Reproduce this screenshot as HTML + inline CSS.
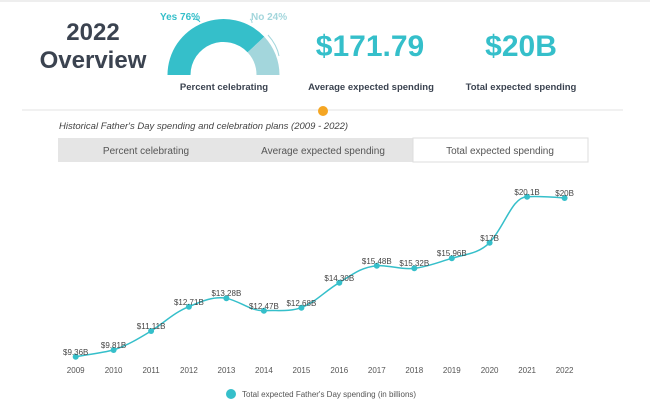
<!DOCTYPE html>
<html><head><style>
body{margin:0;width:650px;height:407px;background:#fff;font-family:"Liberation Sans",sans-serif;position:relative;overflow:hidden}
.a{position:absolute}
</style></head><body>
<div class="a" style="left:0;top:0;width:650px;height:2px;background:#eee"></div>
<div class="a" style="left:22px;top:19px;width:142px;text-align:center;font-size:24px;font-weight:bold;color:#3b4350;line-height:28px">2022<br>Overview</div>
<svg class="a" style="left:0;top:0" width="650" height="407">
<path d="M167.5 75 A56 56 0 0 1 264.3 36.7 L247.6 52.4 A33 33 0 0 0 190.5 75 Z" fill="#35bfca"/>
<path d="M264.3 36.7 A56 56 0 0 1 279.5 75 L256.5 75 A33 33 0 0 0 247.6 52.4 Z" fill="#a3d6dc"/>
<path d="M193 19 Q198 19 200 22" stroke="#35bfca" fill="none"/>
<path d="M250 19 Q252 20 252 23 M268 35 Q277 45 279 56" stroke="#a3d6dc" fill="none"/>
<text x="160" y="20" font-size="10" font-weight="bold" fill="#35bfca">Yes 76%</text>
<text x="251" y="20" font-size="10" font-weight="bold" fill="#a3d6dc">No 24%</text>
<text x="370" y="56" text-anchor="middle" font-size="30" font-weight="bold" fill="#35bfca">$171.79</text>
<text x="521" y="56" text-anchor="middle" font-size="30" font-weight="bold" fill="#35bfca">$20B</text>
<g font-size="9.5" font-weight="bold" fill="#3b4350" text-anchor="middle">
<text x="224" y="90">Percent celebrating</text>
<text x="371" y="90">Average expected spending</text>
<text x="521" y="90">Total expected spending</text>
</g>
<line x1="22" y1="110" x2="623" y2="110" stroke="#e3e3e3"/>
<circle cx="323" cy="111" r="5" fill="#f5a623"/>
<text x="59" y="129" font-size="9.5" font-style="italic" fill="#444">Historical Father's Day spending and celebration plans (2009 - 2022)</text>
<rect x="58" y="138" width="530" height="24" fill="#e5e5e5"/>
<rect x="413" y="138" width="175" height="24" fill="#fff" stroke="#ddd"/>
<g font-size="10" fill="#555" text-anchor="middle">
<text x="146" y="154">Percent celebrating</text>
<text x="323" y="154">Average expected spending</text>
<text x="500" y="154">Total expected spending</text>
</g>
<path d="M75.7,356.7 C88,354.5 101,353 113.6,350 C128,345 138,339 151.1,331 C165,322 175,312 188.9,306.7 C202,301 214,296 226.4,298.3 C240,301 250,311 263.9,310.7 C278,310 289,312 301.4,307.7 C316,302 325,291 339.3,282.7 C353,274 362,267 376.8,265.7 C390,265 401,270 414.3,268.3 C427,267 439,262 451.8,258.3 C466,254 478,254 489.6,242.7 C505,226 512,197 527.1,196.7 C540,196 552,197 564.6,198" stroke="#35bfca" stroke-width="1.5" fill="none"/>
<g fill="#35bfca">
<circle cx="75.7" cy="356.7" r="3"/><circle cx="113.6" cy="350" r="3"/><circle cx="151.1" cy="331" r="3"/><circle cx="188.9" cy="306.7" r="3"/><circle cx="226.4" cy="298.3" r="3"/><circle cx="263.9" cy="310.7" r="3"/><circle cx="301.4" cy="307.7" r="3"/><circle cx="339.3" cy="282.7" r="3"/><circle cx="376.8" cy="265.7" r="3"/><circle cx="414.3" cy="268.3" r="3"/><circle cx="451.8" cy="258.3" r="3"/><circle cx="489.6" cy="242.7" r="3"/><circle cx="527.1" cy="196.7" r="3"/><circle cx="564.6" cy="198" r="3"/>
</g>
<g font-size="8" fill="#444" text-anchor="middle">
<text x="75.7" y="355">$9.36B</text><text x="113.6" y="348">$9.81B</text><text x="151.1" y="329">$11.11B</text><text x="188.9" y="305">$12.71B</text><text x="226.4" y="296">$13.28B</text><text x="263.9" y="309">$12.47B</text><text x="301.4" y="306">$12.68B</text><text x="339.3" y="281">$14.30B</text><text x="376.8" y="264">$15.48B</text><text x="414.3" y="266">$15.32B</text><text x="451.8" y="256">$15.96B</text><text x="489.6" y="241">$17B</text><text x="527.1" y="195">$20.1B</text><text x="564.6" y="196">$20B</text>
</g>
<g font-size="8" fill="#555" text-anchor="middle">
<text x="75.7" y="373">2009</text><text x="113.6" y="373">2010</text><text x="151.1" y="373">2011</text><text x="188.9" y="373">2012</text><text x="226.4" y="373">2013</text><text x="263.9" y="373">2014</text><text x="301.4" y="373">2015</text><text x="339.3" y="373">2016</text><text x="376.8" y="373">2017</text><text x="414.3" y="373">2018</text><text x="451.8" y="373">2019</text><text x="489.6" y="373">2020</text><text x="527.1" y="373">2021</text><text x="564.6" y="373">2022</text>
</g>
<circle cx="231" cy="394" r="5" fill="#35bfca"/>
<text x="242" y="397" font-size="8" fill="#555">Total expected Father's Day spending (in billions)</text>
</svg>
</body></html>
